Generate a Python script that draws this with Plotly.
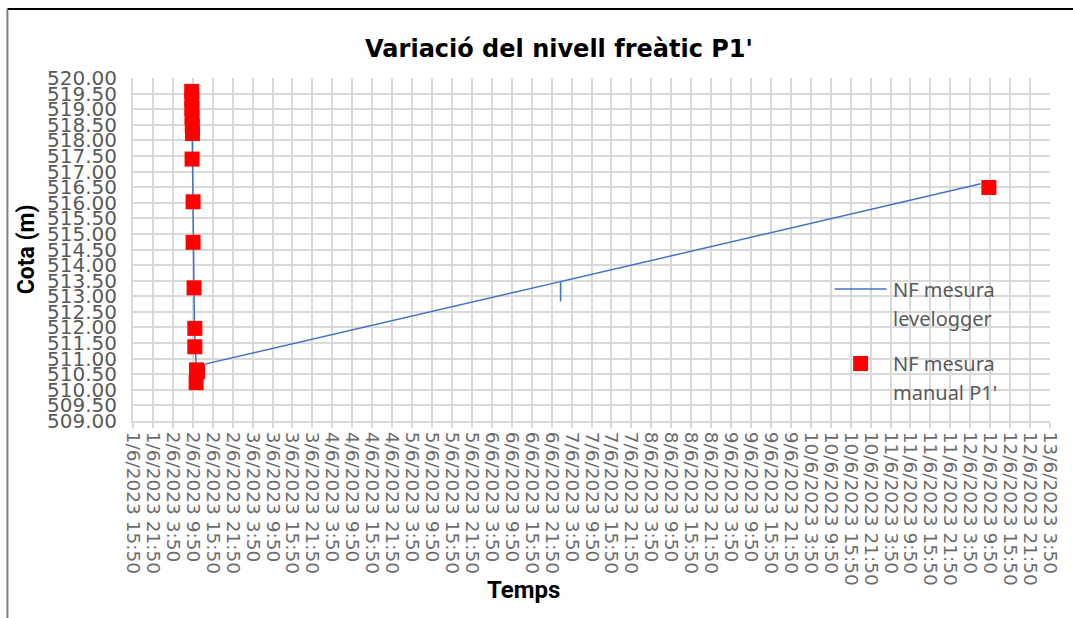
import plotly.graph_objects as go

# ---- data ----
logger_time = [
    "2023-06-02 09:30", "2023-06-02 10:00", "2023-06-02 10:20", "2023-06-02 10:50",
    "2023-06-07 00:30", "2023-06-07 00:32", "2023-06-07 00:34", "2023-06-12 07:00",
]
logger_level = [519.60, 515.50, 512.00, 510.76, 513.47, 512.83, 513.47, 516.61]

manual_time = [
    "2023-06-02 09:30", "2023-06-02 09:32", "2023-06-02 09:34", "2023-06-02 09:36",
    "2023-06-02 09:40", "2023-06-02 09:44", "2023-06-02 09:37", "2023-06-02 09:55",
    "2023-06-02 09:55", "2023-06-02 10:13", "2023-06-02 10:26", "2023-06-02 10:26",
    "2023-06-02 10:57", "2023-06-02 11:15", "2023-06-02 10:50", "2023-06-12 09:26",
]
manual_level = [
    519.57, 519.30, 519.02, 518.75, 518.48, 518.22, 517.40, 516.03,
    514.73, 513.27, 511.97, 511.38, 510.64, 510.58, 510.23, 516.49,
]

x_start = "2023-06-01 15:50"
x_end = "2023-06-13 03:50"
y_min, y_max, y_step = 509.0, 520.0, 0.5

title_text = "Variació del nivell freàtic P1'"
y_title = "Cota (m)"
x_title = "Temps"
legend_names = ["NF mesura<br>levelogger", "NF mesura<br>manual P1'"]

# ---- figure ----
OFF = 0  # page body margin removed by post_script
W, H = 1073, 618
L = 133 - OFF
T = 78 - OFF
R = W - (1053 - OFF)
B = H - (421 - OFF)
pw, ph = W - L - R, H - T - B


def px_x(p):  # page pixel -> paper
    return (p - OFF - L) / pw


def px_y(p):
    return (H - B - (p - OFF)) / ph


fig = go.Figure()
fig.add_trace(go.Scatter(
    x=logger_time, y=logger_level, mode="lines", name="NF mesura levelogger",
    line=dict(color="#4472C4", width=1.5), showlegend=False,
))
fig.add_trace(go.Scatter(
    x=manual_time, y=manual_level, mode="markers", name="NF mesura manual P1'",
    marker=dict(symbol="square", size=15, color="#FF0000"), showlegend=False,
))

grid = "#d9d9d9"
fig.update_xaxes(
    type="date", range=[x_start, x_end], tick0=x_start, dtick=6 * 3600 * 1000,
    tickformat="%-d/%-m/%Y %-H:%M", tickangle=90,
    tickfont=dict(family="DejaVu Sans", size=18.5, color="#6b6b6b"),
    showgrid=True, gridcolor=grid, gridwidth=2,
    showline=True, linecolor=grid, linewidth=2,
    ticks="outside", ticklen=5, tickcolor=grid, tickwidth=2,
    zeroline=False,
)
fig.update_yaxes(
    range=[y_min, y_max], tick0=y_min, dtick=y_step, tickformat=".2f",
    tickfont=dict(family="DejaVu Sans", size=20, color="#595959"),
    showgrid=True, gridcolor=grid, gridwidth=2,
    showline=True, linecolor=grid, linewidth=2,
    ticks="", ticklabelstandoff=10, zeroline=False,
)

shapes = [
    dict(type="line", xref="paper", yref="paper", x0=px_x(7), x1=px_x(W + 20),
         y0=px_y(9), y1=px_y(9), line=dict(color="#000000", width=2)),
    dict(type="line", xref="paper", yref="paper", x0=px_x(7), x1=px_x(7),
         y0=px_y(9), y1=px_y(H + 20), line=dict(color="#7f7f7f", width=2)),
    # legend symbols
    dict(type="line", xref="paper", yref="paper", x0=px_x(837), x1=px_x(889),
         y0=px_y(289), y1=px_y(289), line=dict(color="#4472C4", width=1.5)),
    dict(type="rect", xref="paper", yref="paper", x0=px_x(855.5), x1=px_x(870.5),
         y0=px_y(356), y1=px_y(371), line=dict(width=0), fillcolor="#FF0000"),
]

lg_font = dict(family="Noto Sans", size=20, color="#595959")
annotations = [
    dict(text=y_title, xref="paper", yref="paper", x=px_x(27), y=px_y(249),
         xanchor="center", yanchor="middle", textangle=-90, showarrow=False,
         font=dict(family="Roboto", size=23, color="#000000", weight="bold")),
    dict(text=x_title, xref="paper", yref="paper", x=px_x(525), y=px_y(590),
         xanchor="center", yanchor="middle", showarrow=False,
         font=dict(family="Roboto", size=24, color="#000000", weight="bold")),
]
for i, name in enumerate(legend_names):
    lines = name.split("<br>")
    base = [289, 363][i]
    for j, t in enumerate(lines):
        annotations.append(dict(text=t, xref="paper", yref="paper", x=px_x(893),
                                y=px_y(base + 29 * j), xanchor="left", yanchor="middle",
                                showarrow=False, font=lg_font))

fig.update_layout(
    width=W, height=H,
    margin=dict(l=L, r=R, t=T, b=B),
    paper_bgcolor="#ffffff", plot_bgcolor="#ffffff",
    title=dict(text=title_text, x=(559 - OFF) / W, y=1 - (49 - OFF) / H,
               xanchor="center", yanchor="middle",
               font=dict(family="DejaVu Sans", size=24, color="#000000", weight="bold")),
    shapes=shapes, annotations=annotations, showlegend=False,
)

fig.write_html(
    "out.html",
    config={"displayModeBar": False},
    post_script="document.body.style.margin='0';document.body.style.overflow='hidden';",
)
